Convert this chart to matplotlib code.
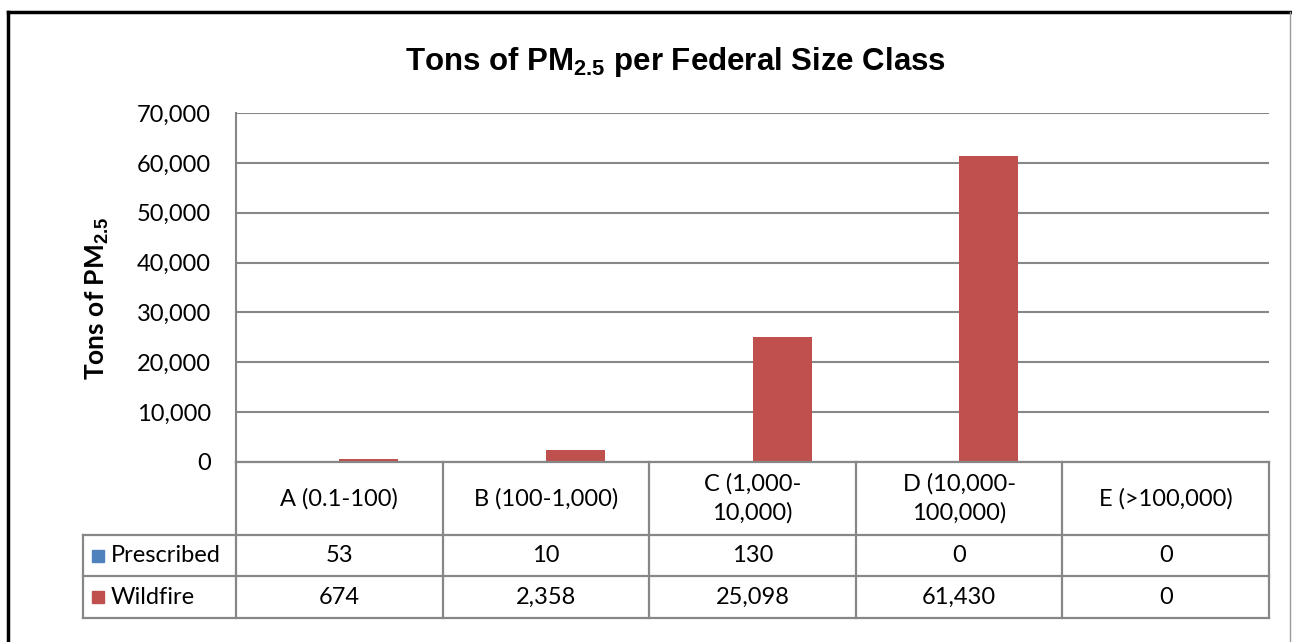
import matplotlib
matplotlib.use("Agg")
import matplotlib.pyplot as plt
from matplotlib.lines import Line2D
from matplotlib.patches import Rectangle
import numpy as np

categories = ["A (0.1-100)", "B (100-1,000)", "C (1,000-\n10,000)",
              "D (10,000-\n100,000)", "E (>100,000)"]
series_names = ["Prescribed", "Wildfire"]
prescribed = [53, 10, 130, 0, 0]
wildfire = [674, 2358, 25098, 61430, 0]
y_ticks = [0, 10000, 20000, 30000, 40000, 50000, 60000, 70000]

colors = ["#4F81BD", "#C0504D"]
grid_col = "#878787"
fs = 17

plt.rcParams["mathtext.fontset"] = "custom"
plt.rcParams["mathtext.bf"] = "Liberation Sans:bold"
plt.rcParams["mathtext.rm"] = "Liberation Sans"

W, H = 1292, 642
fig = plt.figure(figsize=(W / 100, H / 100), dpi=100)

def fx(px):
    return px / W

def fy(py):
    return 1 - py / H

# plot area in pixels
L, R, T, B = 236, 1269, 113, 462
ax = fig.add_axes([fx(L), fy(B), fx(R) - fx(L), fy(T) - fy(B)])

x = np.arange(len(categories))
w = 1 / 3.5
ax.bar(x - w / 2, prescribed, w, color=colors[0], zorder=3)
ax.bar(x + w / 2, wildfire, w, color=colors[1], zorder=3)

ax.set_xlim(-0.5, len(categories) - 0.5)
ax.set_ylim(0, 70000)
ax.set_yticks(y_ticks)
ax.set_yticklabels(["{:,}".format(t) for t in y_ticks], family="Lato", fontsize=fs)
ax.set_xticks([])
ax.yaxis.grid(True, color=grid_col, lw=1.5)
ax.set_axisbelow(True)
for s in ["top", "right", "bottom"]:
    ax.spines[s].set_visible(False)
ax.spines["left"].set_color(grid_col)
ax.spines["left"].set_linewidth(1.5)
ax.tick_params(axis="y", length=0, pad=18)

fig.text(fx(676), fy(62), r"Tons of PM$_\mathbf{2.5}$ per Federal Size Class",
         ha="center", va="center", family="Liberation Sans", fontweight="bold", fontsize=22.5)
fig.text(fx(97), fy(298), r"Tons of PM$_\mathbf{2.5}$", rotation=90,
         ha="center", va="center", family="Lato", fontweight="bold", fontsize=19)

# data table
cols = np.linspace(L, R, len(categories) + 1)
rows = [B, 535, 576, 618]
legend_left = 83

def hline(y, x0, x1):
    fig.add_artist(Line2D([fx(x0), fx(x1)], [fy(y), fy(y)], color=grid_col, lw=1.6))

def vline(xp, y0, y1):
    fig.add_artist(Line2D([fx(xp), fx(xp)], [fy(y0), fy(y1)], color=grid_col, lw=1.6))

hline(rows[0], L, R)
for y in rows[1:]:
    hline(y, legend_left, R)
for xp in cols:
    vline(xp, rows[0], rows[-1])
vline(legend_left, rows[1], rows[-1])

for i, cat in enumerate(categories):
    cx = (cols[i] + cols[i + 1]) / 2
    fig.text(fx(cx), fy((rows[0] + rows[1]) / 2), cat, ha="center", va="center",
             family="Lato", fontsize=fs, linespacing=1.45)

for r, (name, vals) in enumerate(zip(series_names, [prescribed, wildfire])):
    cy = (rows[r + 1] + rows[r + 2]) / 2
    fig.add_artist(Rectangle((fx(92), fy(cy + 6)), fx(12), 12 / H,
                             color=colors[r], transform=fig.transFigure))
    fig.text(fx(111), fy(cy), name, ha="left", va="center", family="Lato", fontsize=fs)
    for i, v in enumerate(vals):
        cx = (cols[i] + cols[i + 1]) / 2
        fig.text(fx(cx), fy(cy), "{:,}".format(v), ha="center", va="center",
                 family="Lato", fontsize=fs)

# outer chart frame
fig.add_artist(Line2D([fx(8), fx(1291)], [fy(12), fy(12)], color="black", lw=2.5))
fig.add_artist(Line2D([fx(8), fx(8)], [fy(12), fy(642)], color="black", lw=2.5))
fig.add_artist(Line2D([fx(1290), fx(1290)], [fy(12), fy(642)], color="#9a9a9a", lw=1))

fig.savefig("out.png", dpi=100)
